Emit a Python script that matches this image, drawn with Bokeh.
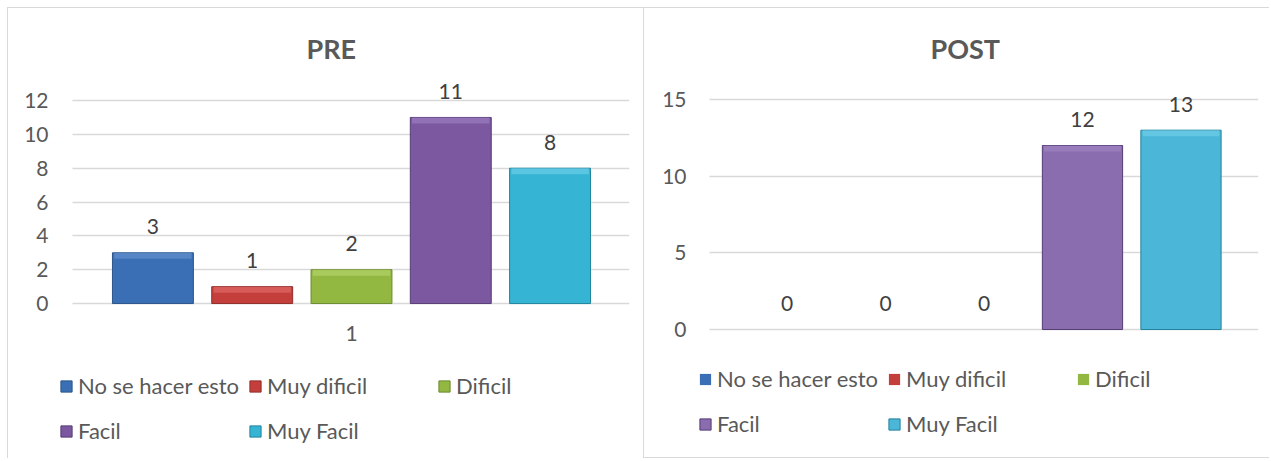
from bokeh.plotting import figure
from bokeh.models import ColumnDataSource, FixedTicker, Range1d, Legend, LegendItem, Spacer
from bokeh.layouts import row, column
from bokeh.embed import file_html
from bokeh.resources import INLINE
from bokeh.core.properties import value

# ---------------- data ----------------
series = ["No se hacer esto", "Muy dificil", "Dificil", "Facil", "Muy Facil"]
category = "1"
pre_values = [3, 1, 2, 11, 8]
post_values = [0, 0, 0, 12, 13]
pre_ticks = [0, 2, 4, 6, 8, 10, 12]
post_ticks = [0, 5, 10, 15]

# ---------------- styles ----------------
FONT = "Lato"
pre_colors = ["#3A6EB5", "#C43E3B", "#92B842", "#7B58A0", "#35B4D3"]
post_colors = ["#3A6EB5", "#C43E3B", "#92B842", "#8A6DAE", "#4BB6D7"]
edge_colors = ["#2B5488", "#8E2E2C", "#6C8A2E", "#553C74", "#23849E"]
bevel_colors = ["#6F9AD6", "#E77572", "#BCDB74", "#A688C8", "#78D6EE"]
GRID = "#D9D9D9"
TICK_TXT = "#595959"
LABEL_TXT = "#404040"
H = 451


def build(title_text, values, colors, ticks, y_range, x_range, grid_start, width,
          mb_left, mb_right, show_category, leg_x, leg_y, title_offset, ystandoff,
          px_per_unit, styles):
    n = len(series)
    mid = n // 2
    bevel = 6.0 / px_per_unit  # ~6 px highlight band at the top of each bar
    src = ColumnDataSource(dict(
        x=list(range(n)), top=values, name=series, color=colors,
        line=edge_colors, line_alpha=[1.0 if v > 0 else 0.0 for v in values],
        bevel=bevel_colors,
        bevel_bottom=[max(v - bevel, 0) for v in values],
        label=[str(v) for v in values]))
    p = figure(width=width, height=H,
               x_range=Range1d(*x_range), y_range=Range1d(*y_range),
               output_backend="svg", toolbar_location=None,
               min_border_left=mb_left, min_border_right=mb_right,
               min_border_top=68, min_border_bottom=3)
    p.outline_line_color = None
    p.background_fill_color = "white"
    p.border_fill_color = "white"
    p.styles = styles

    # y axis + horizontal grid (0 line included)
    p.yaxis.ticker = FixedTicker(ticks=ticks)
    p.yaxis.axis_line_color = None
    p.yaxis.major_tick_line_color = None
    p.yaxis.minor_tick_line_color = None
    p.yaxis.major_label_standoff = ystandoff
    p.yaxis.major_label_text_font = FONT
    p.yaxis.major_label_text_font_size = "21px"
    p.yaxis.major_label_text_color = TICK_TXT
    p.ygrid.ticker = FixedTicker(ticks=ticks)
    p.ygrid.grid_line_color = GRID
    p.ygrid.grid_line_width = 1.5
    p.ygrid.cross_bounds = (grid_start, x_range[1])
    p.xgrid.grid_line_color = None
    p.xaxis.visible = False

    r = p.vbar(x="x", top="top", bottom=0, width=0.815, fill_color="color",
               line_color="line", line_alpha="line_alpha", line_width=1, source=src)
    p.vbar(x="x", top="top", bottom="bevel_bottom", width=0.78, fill_color="bevel",
           fill_alpha=0.55, line_color=None, source=src)
    p.text(x="x", y="top", text="label", text_align="center", text_baseline="middle",
           y_offset=-26, text_font=value(FONT), text_font_size="21px",
           text_color=LABEL_TXT, source=src)

    # category label under the 0 line
    if show_category:
        p.text(x=[mid], y=[0], text=[category], text_align="center",
               text_baseline="middle", y_offset=30, text_font=value(FONT),
               text_font_size="21px", text_color=TICK_TXT)

    # title
    p.title.text = title_text
    p.title.align = "left"
    p.title.offset = title_offset
    p.title.standoff = 23
    p.title.text_font = FONT
    p.title.text_font_size = "27px"
    p.title.text_font_style = "bold"
    p.title.text_color = TICK_TXT

    # legend: 3 columns x 2 rows, one legend per entry
    for i, name in enumerate(series):
        col, rw = i % 3, i // 3
        lg = Legend(items=[LegendItem(label=name, renderers=[r], index=i)],
                    location=(leg_x + col * 189, leg_y - rw * 45))
        lg.padding = 0
        lg.margin = 0
        lg.border_line_color = None
        lg.background_fill_alpha = 0
        lg.glyph_width = 14
        lg.glyph_height = 14
        lg.label_standoff = 5
        lg.label_height = 26
        lg.label_text_font = FONT
        lg.label_text_font_size = "22px"
        lg.label_text_color = TICK_TXT
        p.add_layout(lg)
    return p


border = "1px solid #D9D9D9"
p1 = build("PRE", pre_values, pre_colors, pre_ticks, (-9.04, 13.42), (-0.961, 4.80), -0.81,
           636, 49, 15, True, 2, 57, 249, 3, 16.92,
           {"border-left": border, "border-top": border})
p2 = build("POST", post_values, post_colors, post_ticks, (-8.28, 16.5), (-0.939, 4.787), -0.787,
           626, 50, 12, False, 4, 64, 236, 2, 15.33,
           {"border-left": border, "border-top": border, "border-bottom": border})

layout = column(Spacer(height=7), row(Spacer(width=7), p1, p2))
open("out.html", "w").write(file_html(layout, INLINE))
